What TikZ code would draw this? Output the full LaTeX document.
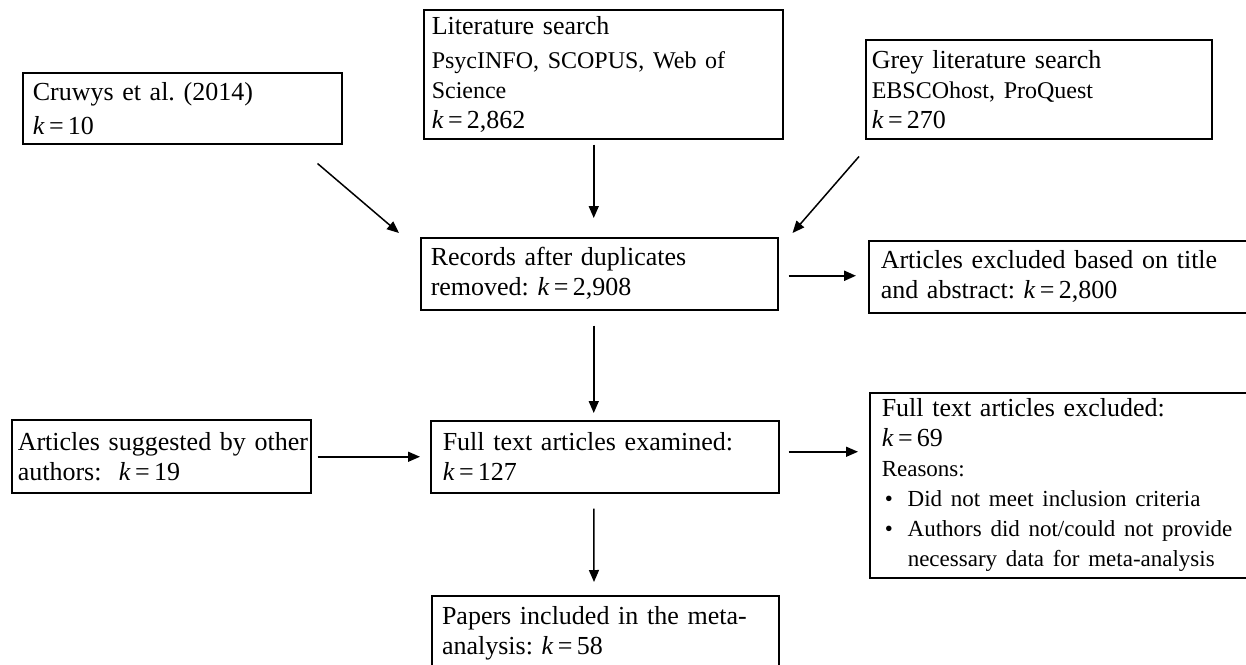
\documentclass[tikz,border=0pt]{standalone}
\usepackage{fontspec}
\setmainfont{Liberation Serif}
\usetikzlibrary{arrows.meta}
\newcommand\srcf{\fontsize{24}{30}\selectfont}
\newcommand\bulf{\fontsize{23}{28}\selectfont}
\frenchspacing
\begin{document}
\begin{tikzpicture}[x=1pt,y=-1pt,
  box/.style={draw, line width=1.5pt, anchor=north west, align=left, inner xsep=10pt, inner ysep=0pt, font=\fontsize{26}{30}\selectfont\frenchspacing},
  arr/.style={line width=1.5pt, -{Triangle[length=12pt,width=10pt]}}]
\path[use as bounding box, fill=white] (0,0) rectangle (1246,664);
\clip (0,0) rectangle (1246,664);

\node[box, minimum width=319pt, minimum height=71pt, text width=299pt] (cruwys) at (22,72)
  {Cruwys et al. (2014)\\[4pt]\textit{k}\,=\,10};
\node[box, minimum width=359pt, minimum height=129pt, inner xsep=8pt, text width=343pt] (lit) at (423,9)
  {Literature search\\[4pt]{\srcf PsycINFO, SCOPUS, Web of}\\{\srcf Science}\\\textit{k}\,=\,2,862};
\node[box, minimum width=346pt, minimum height=99pt, inner xsep=6pt, text width=334pt] (grey) at (865,39)
  {Grey literature search\\{\srcf EBSCOhost, ProQuest}\\\textit{k}\,=\,270};
\node[box, minimum width=357pt, minimum height=72pt, text width=337pt] (records) at (420,237)
  {Records after duplicates\\removed: \textit{k}\,=\,2,908};
\node[box, minimum width=420pt, minimum height=72pt, inner xsep=12pt, text width=396pt] (excl1) at (868,240)
  {Articles excluded based on title\\and abstract: \textit{k}\,=\,2,800};
\node[box, minimum width=299pt, minimum height=73pt, inner xsep=6pt, text width=287pt] (articles) at (11,419)
  {\mbox{Articles suggested by other}\\authors:\ \ \textit{k}\,=\,19};
\node[box, minimum width=348pt, minimum height=72pt, inner xsep=12pt, text width=324pt] (full) at (430,420)
  {Full text articles examined:\\\textit{k}\,=\,127};
\node[box, minimum width=420pt, minimum height=185pt, inner xsep=12pt, text width=396pt] (excl2) at (869,392)
  {Full text articles excluded:\\\textit{k}\,=\,69\\{\bulf Reasons:}\\
   {\bulf\hspace*{3pt}\makebox[23pt][l]{•}Did not meet inclusion criteria}\\
   {\bulf\hspace*{3pt}\makebox[23pt][l]{•}Authors did not/could not provide}\\
   {\bulf\hspace*{26pt}necessary data for meta-analysis}};
\node[box, line width=2pt, minimum width=347pt, minimum height=75pt, text width=327pt] (papers) at (431,595)
  {Papers included in the meta-\\analysis: \textit{k}\,=\,58};

\draw[arr] ([shift={(-25,19)}]cruwys.south east) -- ([shift={(-21,-4)}]records.north west);
\draw[arr] ([shift={(-9.5,5)}]lit.south) -- ([shift={(-5.5,-19)}]records.north);
\draw[arr] ([shift={(-6,17)}]grey.south west) -- ([shift={(14,-4)}]records.north east);
\draw[arr, line width=2.2pt] ([shift={(10,2)}]records.east) -- ([shift={(-12,-1)}]excl1.west);
\draw[arr] ([shift={(-5.5,15)}]records.south) -- ([shift={(-11,-7)}]full.north);
\draw[arr] ([shift={(6,0.5)}]articles.east) -- ([shift={(-10,0)}]full.west);
\draw[arr] ([shift={(9,-5)}]full.east) -- ([shift={(-11,-33.5)}]excl2.west);
\draw[arr] ([shift={(-11,15)}]full.south) -- ([shift={(-11.5,-13)}]papers.north);
\end{tikzpicture}
\end{document}
